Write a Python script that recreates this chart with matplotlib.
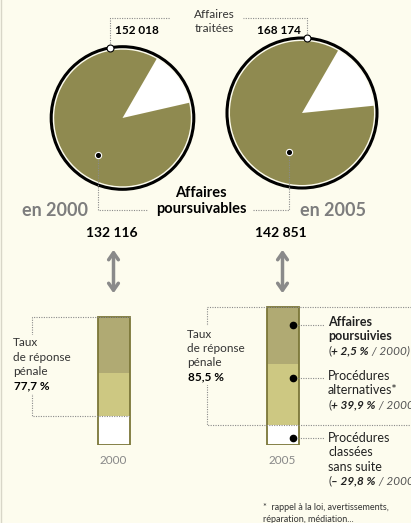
import numpy as np
import matplotlib.pyplot as plt
from matplotlib.patches import Circle

plt.rcParams['font.family'] = ['Lato', 'DejaVu Sans']

# Données
years = ['2000', '2005']
traitees = [152018, 168174]
poursuivables = [132116, 142851]
# poursuivables = poursuivies + alternatives + classées
poursuivies = [57419, 58854]
alternatives = [45235, 63284]
classees = [29462, 20713]
taux = ['77,7 %', '85,5 %']
evolutions = ['+ 2,5 %', '+ 39,9 %', '– 29,8 %']
labels_droite = [(['Affaires', 'poursuivies'], 'bold'),
                 (['Procédures', 'alternatives*'], 'normal'),
                 (['Procédures', 'classées', 'sans suite'], 'normal')]

# Couleurs
BG = '#fdfcee'
OLIVE = '#8f8a50'
DARK = '#b0aa73'
LIGHT = '#cdc882'
EDGE = '#7b7638'
GRAY = '#7d7d7d'
DOT = '#8a8a8a'
dotted = dict(ls=(0, (1, 1.2)), color=DOT, lw=0.8)
LINE = 14.3   # interligne en px

fig = plt.figure(figsize=(4.11, 5.23), dpi=100, facecolor=BG)

# axe principal en pixels (0..411, 0..523 de haut en bas)
ax = fig.add_axes([0, 0, 1, 1])
ax.set_zorder(2)
ax.patch.set_visible(False)

# --- Camemberts ---
centers = [(122.5, 118), (302, 113)]
r_max = 75
top_angles = [100, 86]
inner_dots = [(-24.5, 37), (-13, 39)]
for i, (cx, cy) in enumerate(centers):
    r = r_max * np.sqrt(traitees[i] / max(traitees))
    ax.pie([traitees[i] - poursuivables[i], poursuivables[i]],
           colors=['white', OLIVE], startangle=300, radius=r - 3,
           center=(cx, cy), wedgeprops=dict(linewidth=0), frame=True)
    ax.add_patch(Circle((cx, cy), r, fill=False, ec='black', lw=2.2))
    a = np.radians(top_angles[i])
    tx, ty = cx + r * np.cos(a), cy - r * np.sin(a)
    end_x = 170 if i == 0 else 243
    ax.plot([tx, tx, end_x], [ty, 18, 18], **dotted, zorder=3)
    ax.plot(tx, ty, 'o', ms=5, mfc='white', mec='black', mew=0.8, zorder=5)
    dx, dy = cx + inner_dots[i][0], cy + inner_dots[i][1]
    end_x = 148 if i == 0 else 253
    ax.plot([dx, dx, end_x], [dy, 210, 210], **dotted, zorder=3)
    ax.plot(dx, dy, 'o', ms=4.5, mfc='black', mec='white', mew=0.8, zorder=5)

ax.text(214, 15, 'Affaires', ha='center', va='center', fontsize=8.5, color='#333333')
ax.text(214, 28, 'traitées', ha='center', va='center', fontsize=8.5, color='#333333')
ax.text(115, 30, f'{traitees[0]:,}'.replace(',', ' '), ha='left', va='center',
        fontsize=8.5, weight='bold')
ax.text(301, 30, f'{traitees[1]:,}'.replace(',', ' '), ha='right', va='center',
        fontsize=8.5, weight='bold')
ax.text(201, 193, 'Affaires', ha='center', va='center', fontsize=10.5, weight='bold')
ax.text(201, 209.5, 'poursuivables', ha='center', va='center', fontsize=10.5,
        weight='bold')
ax.text(55, 210, 'en ' + years[0], ha='center', va='center', fontsize=13,
        weight='bold', color=GRAY)
ax.text(333, 210, 'en ' + years[1], ha='center', va='center', fontsize=13,
        weight='bold', color=GRAY)

bar_x = [113.5, 282.5]
for i, x in enumerate(bar_x):
    ax.text(x - 2, 233, f'{poursuivables[i]:,}'.replace(',', ' '), ha='center',
            va='center', fontsize=10, weight='bold')
    ax.annotate('', xy=(x, 247), xytext=(x, 296),
                arrowprops=dict(arrowstyle='<->,head_length=0.5,head_width=0.35',
                                color='#8a8a8a', lw=2.5))
    ax.text(x, 460, years[i], ha='center', va='center', fontsize=8.5, color='#888888')

# --- Barres empilées ---
k = 128 / poursuivables[0]          # px par affaire
ymax = 170000
h = ymax * k
bax = fig.add_axes([0, 78 / 523, 1, h / 523])
bax.set_zorder(1)
bax.patch.set_visible(False)
bax.set_xlim(0, 411)
bax.set_ylim(0, ymax)
bax.axis('off')

classees_a = np.array(classees)
alt_a = np.array(alternatives)
pours_a = np.array(poursuivies)
total = classees_a + alt_a + pours_a
bax.bar(bar_x, classees_a, width=32, color='white', lw=0)
bax.bar(bar_x, alt_a, bottom=classees_a, width=32, color=LIGHT, lw=0)
bax.bar(bar_x, pours_a, bottom=classees_a + alt_a, width=32, color=DARK, lw=0)
bax.bar(bar_x, total, width=32, fill=False, edgecolor=EDGE, lw=1.3)

# crochets "taux de réponse pénale"
left_x = [32, 207]
right_x = [bar_x[0] + 16, 411]
for i in range(2):
    bax.plot([right_x[i], left_x[i], left_x[i], right_x[i]],
             [total[i], total[i], classees_a[i], classees_a[i]], **dotted)

taux_pos = [(13, 343), (187, 334)]
for i, (x, y) in enumerate(taux_pos):
    for m, line in enumerate(['Taux', 'de réponse', 'pénale']):
        ax.text(x, y + LINE * m, line, ha='left', va='center', fontsize=8.5,
                color='#333333', bbox=dict(fc=BG, ec='none', pad=1.5))
    ax.text(x + 1, y + LINE * 3, taux[i], ha='left', va='center', fontsize=8.5,
            weight='bold', bbox=dict(fc=BG, ec='none', pad=1.5))

# légende à droite
renderer = fig.canvas.get_renderer()


def rich(x, y, parts):
    for s, style in parts:
        t = ax.text(x, y, s, ha='left', va='center', fontsize=8.5, **style)
        x += t.get_window_extent(renderer=renderer).width


dot_y = [325, 378, 438]
text_y = [322, 376, 438]
for j, (lines, w) in enumerate(labels_droite):
    y = dot_y[j]
    ax.plot([293, 324], [y, y], **dotted, zorder=3)
    ax.plot(293, y, 'o', ms=4.5, color='black', zorder=5)
    for m, line in enumerate(lines):
        ax.text(328, text_y[j] + LINE * m, line, ha='left', va='center',
                fontsize=9, weight=w, color='#222222')
    rich(328, text_y[j] + LINE * len(lines),
         [('(', dict(color='#333333')),
          (evolutions[j], dict(weight='bold', style='italic', color='#222222')),
          (' / 2000)', dict(style='italic', color='#555555'))])

ax.text(263, 507, '*  rappel à la loi, avertissements,', ha='left', va='center',
        fontsize=6.5, color='#333333')
ax.text(263, 519, 'réparation, médiation...', ha='left', va='center',
        fontsize=6.5, color='#333333')

ax.axvline(0.8, color='#d8d6c8', lw=1)
ax.set_xlim(0, 411)
ax.set_ylim(523, 0)
ax.axis('off')

fig.savefig('out.png', dpi=100, facecolor=BG)
